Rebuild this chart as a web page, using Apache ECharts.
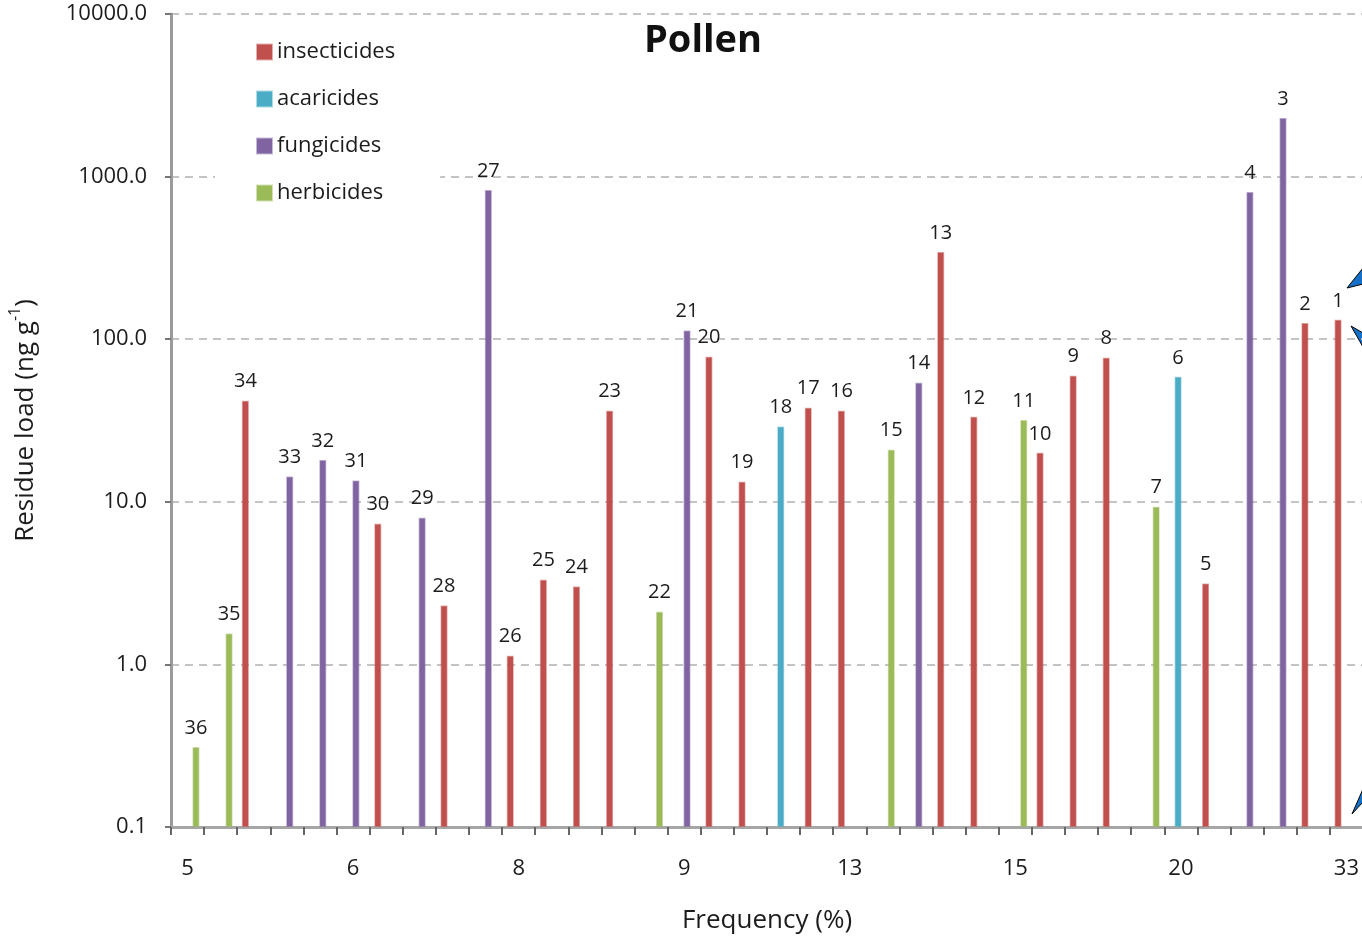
<!DOCTYPE html>
<html>
<head>
<meta charset="utf-8">
<title>Pollen residue load</title>
<script src="https://cdn.jsdelivr.net/npm/echarts@6/dist/echarts.min.js"></script>
<style>
  html, body { margin: 0; padding: 0; background: #fff; }
  #chart { width: 1362px; height: 936px; }
</style>
</head>
<body>
<div id="chart"></div>
<script>
// Pesticide rank (1 = highest load), ordered along the frequency axis
const ranks = ['36','35','34','33','32','31','30','29','28','27','26','25',
               '24','23','22','21','20','19','18','17','16','15','14','13',
               '12','11','10','9','8','7','6','5','4','3','2','1'];

// Class of each pesticide, same order as ranks
const pesticideClass = [
  'herbicides','herbicides','insecticides','fungicides','fungicides','fungicides',
  'insecticides','fungicides','insecticides','fungicides','insecticides','insecticides',
  'insecticides','insecticides','herbicides','fungicides','insecticides','insecticides',
  'acaricides','insecticides','insecticides','herbicides','fungicides','insecticides',
  'insecticides','herbicides','insecticides','insecticides','insecticides','herbicides',
  'acaricides','insecticides','fungicides','fungicides','insecticides','insecticides'
];

// Residue load in ng/g, same order as ranks
const residueLoad = [
  0.31, 1.55, 41.8, 14.3, 18.1, 13.5,
  7.33, 7.98, 2.30, 828, 1.13, 3.32,
  3.01, 36.3, 2.11, 113, 78, 13.3,
  29, 37.9, 36.3, 20.9, 54, 344,
  33.3, 31.9, 20.0, 59.6, 76.9, 9.33,
  58.7, 3.14, 805, 2295, 126, 131.6
];

// Frequency (%) labels shown on every fifth category
const frequencyTicks = ['5','6','8','9','13','15','20','33'];

const classNames = ['insecticides', 'acaricides', 'fungicides', 'herbicides'];
const classColors = {
  insecticides: '#C0504D',
  acaricides: '#4BACC6',
  fungicides: '#8064A2',
  herbicides: '#9BBB59'
};
const classEdge = {
  insecticides: 'rgba(192,80,77,0.45)',
  acaricides: 'rgba(75,172,198,0.45)',
  fungicides: 'rgba(128,100,162,0.45)',
  herbicides: 'rgba(155,187,89,0.45)'
};

const FONT = '"Open Sans", "Liberation Sans", sans-serif';
const TEXT = '#1c1c1c';

const series = classNames.map(name => ({
  name: name,
  type: 'bar',
  barWidth: 7,
  barGap: '-20%',
  data: residueLoad.map((v, i) => pesticideClass[i] === name ? v : '-'),
  itemStyle: {
    color: classColors[name],
    borderColor: classEdge[name],
    borderWidth: 1.5
  },
  label: {
    show: true,
    position: 'top',
    distance: 9,
    formatter: p => p.name,
    fontFamily: FONT,
    fontSize: 20,
    color: TEXT
  }
}));

const chart = echarts.init(document.getElementById('chart'), null, { renderer: 'canvas' });

chart.setOption({
  animation: false,
  backgroundColor: '#ffffff',
  title: {
    text: 'Pollen',
    left: 698,
    top: 17,
    textAlign: 'center',
    textStyle: { fontFamily: FONT, fontWeight: 'bold', fontSize: 38, color: '#111' }
  },
  legend: {
    orient: 'vertical',
    left: 215,
    top: 27,
    padding: [14, 45, 10, 41],
    backgroundColor: '#ffffff',
    itemWidth: 15,
    itemHeight: 15,
    itemGap: 25,
    icon: 'rect',
    data: classNames,
    textStyle: { fontFamily: FONT, fontSize: 22, color: TEXT }
  },
  grid: { left: 171, top: 14, width: 1192, height: 813, outerBoundsMode: 'none', containLabel: false },
  xAxis: {
    type: 'category',
    data: ranks,
    name: 'Frequency (%)',
    nameLocation: 'middle',
    nameGap: 81,
    nameTextStyle: { fontFamily: FONT, fontSize: 26, color: TEXT },
    axisLine: { show: true, lineStyle: { color: '#a6a6a6', width: 3 } },
    axisTick: { show: true, interval: 0, length: 8, lineStyle: { color: '#666', width: 2 } },
    axisLabel: {
      interval: 4,
      margin: 31,
      fontFamily: FONT,
      fontSize: 22,
      color: TEXT,
      formatter: (val, idx) => frequencyTicks[Math.round(idx / 5)] || ''
    },
    splitLine: { show: false }
  },
  yAxis: {
    type: 'log',
    logBase: 10,
    min: 0.1,
    max: 10000,
    startValue: 0.1,
    name: '{a|Residue load (ng g}{s|-1}{a|)}',
    nameLocation: 'middle',
    nameGap: 132,
    nameRotate: 90,
    nameTextStyle: {
      fontFamily: FONT,
      color: TEXT,
      rich: {
        a: { fontFamily: FONT, fontSize: 26, color: TEXT, lineHeight: 32, verticalAlign: 'bottom' },
        s: { fontFamily: FONT, fontSize: 16, color: TEXT, lineHeight: 32, verticalAlign: 'top' }
      }
    },
    axisLine: { show: true, lineStyle: { color: '#9a9a9a', width: 3 } },
    axisTick: { show: true, length: 6, lineStyle: { color: '#777', width: 2 } },
    axisLabel: {
      margin: 24,
      fontFamily: FONT,
      fontSize: 22,
      color: TEXT,
      formatter: v => Number(v).toFixed(1)
    },
    splitLine: { show: true, lineStyle: { color: '#c4c4c4', width: 2, type: [8, 6] } }
  },
  series: series,
  graphic: [
    { type: 'polygon', shape: { points: [[1347, 288], [1363, 268], [1363, 284]] },
      style: { fill: '#1570c8', stroke: '#000', lineWidth: 1 } },
    { type: 'polygon', shape: { points: [[1351, 326], [1363, 333], [1363, 347]] },
      style: { fill: '#1570c8', stroke: '#000', lineWidth: 1 } },
    { type: 'polygon', shape: { points: [[1352, 814], [1363, 789], [1363, 802]] },
      style: { fill: '#1570c8', stroke: '#000', lineWidth: 1 } }
  ]
});
</script>
</body>
</html>
